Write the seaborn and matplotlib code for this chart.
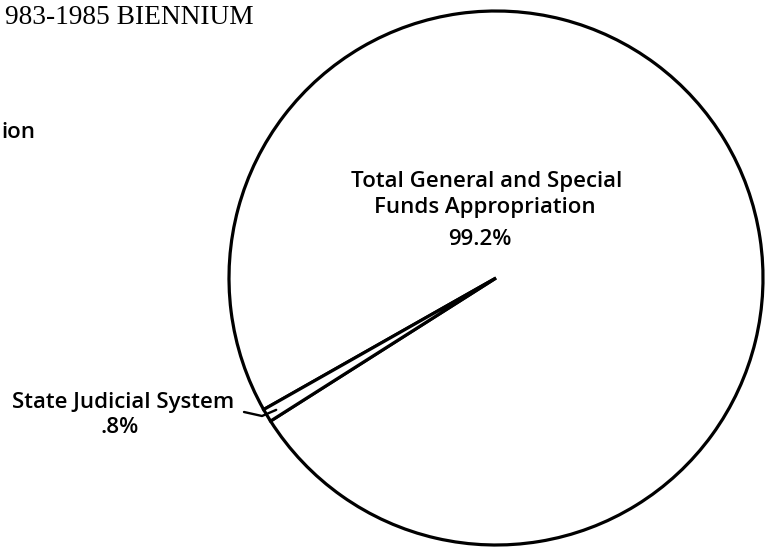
import numpy as np
import matplotlib
matplotlib.use("Agg")
import matplotlib.pyplot as plt
import seaborn as sns

# ---- data ----
categories = ["Total General and Special\nFunds Appropriation", "State Judicial System"]
shares = [99.2, 0.8]
title_text = "983-1985 BIENNIUM"
cut_label = "ion"

def fmt_pct(v):
    s = f"{v:.1f}%"
    return s[1:] if s.startswith("0.") else s

sns.set_theme(style="white")
plt.rcParams["font.family"] = ["Open Sans", "DejaVu Sans"]

W, H = 765, 548
fig = plt.figure(figsize=(W / 100, H / 100), dpi=100)
ax = fig.add_axes([0, 0, 1, 1])

cx, cy, r = 496, H - 278, 267
start = 212.4
wedges, _ = ax.pie(
    shares, startangle=start, counterclock=True, center=(cx, cy), radius=r,
    colors=["white", "white"], frame=True,
    wedgeprops=dict(edgecolor="black", linewidth=2.3),
)
ax.set_xlim(0, W)
ax.set_ylim(0, H)
ax.set_aspect("equal")
ax.axis("off")

# leader for the small slice
small = wedges[1]
mid = np.deg2rad((small.theta1 + small.theta2) / 2)
ex, ey = cx + 0.96 * r * np.cos(mid), cy + 0.96 * r * np.sin(mid)
ax.plot([244, 262, ex], [H - 412, H - 416, ey], color="black", lw=1.7,
        solid_capstyle="round")

fs = 16
txt = dict(color="black", fontsize=fs, fontweight="semibold", va="baseline", ha="center")
ax.text(487, H - 187, categories[0].split("\n")[0], **txt)
ax.text(485, H - 213, categories[0].split("\n")[1], **txt)
ax.text(480, H - 245, fmt_pct(shares[0]), **txt)
ax.text(123, H - 408, categories[1], **txt)
ax.text(120, H - 433, fmt_pct(shares[1]), **txt)
ax.text(1, H - 138, cut_label, color="black", fontsize=fs, fontweight="semibold",
        va="baseline", ha="left")

ax.text(5, H - 24, title_text, family="Liberation Serif", fontsize=19.7,
        color="black", va="baseline", ha="left")

fig.savefig("out.png", dpi=100, facecolor="white")
